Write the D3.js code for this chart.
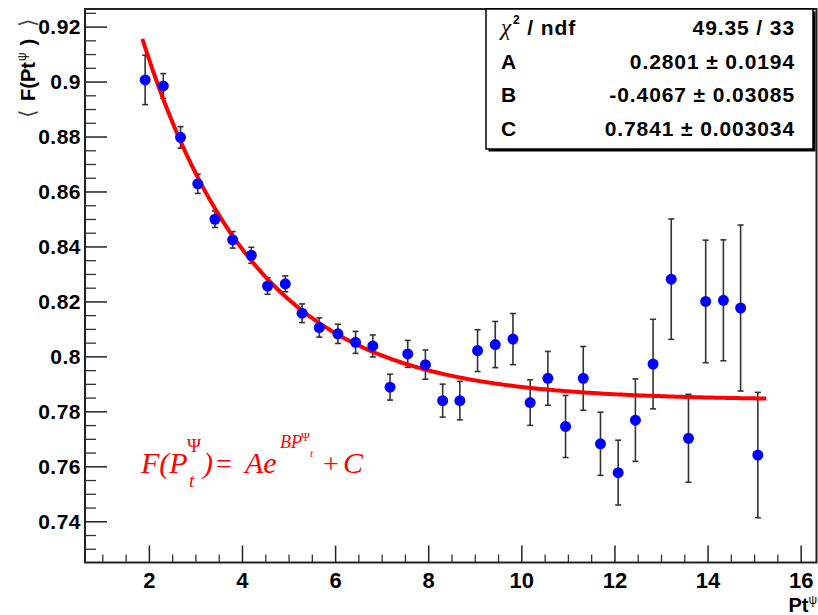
<!DOCTYPE html>
<html>
<head>
<meta charset="utf-8">
<script src="https://cdn.jsdelivr.net/npm/d3@7"></script>
<style>
  html, body { margin: 0; padding: 0; background: #fff; }
  svg { display: block; }
</style>
</head>
<body>
<svg id="chart" width="818" height="615"></svg>
<script>
// --- data ---
const ptValues = [1.92, 2.31, 2.68, 3.05, 3.42, 3.80, 4.20, 4.55, 4.93, 5.29, 5.66, 6.06,
                  6.44, 6.81, 7.18, 7.56, 7.94, 8.31, 8.68, 9.06, 9.44, 9.82, 10.19, 10.57,
                  10.95, 11.33, 11.70, 12.08, 12.45, 12.83, 13.22, 13.59, 13.96, 14.34, 14.71, 15.08];
const meanF = [0.9006, 0.8984, 0.8797, 0.8628, 0.8499, 0.8424, 0.8368, 0.8256, 0.8264, 0.8157, 0.8105, 0.8082,
               0.8051, 0.8038, 0.7888, 0.8009, 0.7970, 0.7839, 0.7839, 0.8021, 0.8043, 0.8063, 0.7832, 0.7920,
               0.7745, 0.7920, 0.7682, 0.7577, 0.7768, 0.7972, 0.8281, 0.7702, 0.8200, 0.8204, 0.8176, 0.7641];
const errF = [0.0090, 0.0045, 0.0039, 0.0035, 0.0030, 0.0030, 0.0029, 0.0030, 0.0029, 0.0034, 0.0035, 0.0035,
              0.0040, 0.0040, 0.0047, 0.0049, 0.0053, 0.0060, 0.0070, 0.0076, 0.0084, 0.0093, 0.0083, 0.0098,
              0.0113, 0.0116, 0.0115, 0.0118, 0.0150, 0.0163, 0.0219, 0.0160, 0.0223, 0.0220, 0.0302, 0.0228];

// fit result  F = A*exp(B*Pt) + C
const fitNames = ["A", "B", "C"];
const fitValues = [0.2801, -0.4067, 0.7841];
const fitValueLabels = ["0.2801", "-0.4067", "0.7841"];
const fitErrorLabels = ["0.0194", "0.03085", "0.003034"];
const fitRange = [1.86, 15.26];
const chi2Label = "49.35 / 33";

const xTickValues = [2, 4, 6, 8, 10, 12, 14, 16];
const xTickLabels = ["2", "4", "6", "8", "10", "12", "14", "16"];
const yTickValues = [0.74, 0.76, 0.78, 0.8, 0.82, 0.84, 0.86, 0.88, 0.9, 0.92];
const yTickLabels = ["0.74", "0.76", "0.78", "0.8", "0.82", "0.84", "0.86", "0.88", "0.9", "0.92"];

// --- layout ---
const L = 85, R = 816.5, T = 9, B = 562.5;
const svg = d3.select("#chart");
const FONT = "'Liberation Sans', Arial, Helvetica, sans-serif";
const SERIF = "'Liberation Serif', 'Times New Roman', serif";

const x = d3.scaleLinear().domain([0.628, 16.34]).range([L, R]);
const y = d3.scaleLinear().domain([0.725, 0.9264]).range([B, T]);

// minor ticks
const xMinor = d3.range(1, 16.3, 0.5).filter(v => v % 2 !== 0);
const yMinor = d3.range(0.73, 0.926, 0.005).map(v => +v.toFixed(3))
  .filter(v => !yTickValues.some(t => Math.abs(t - v) < 1e-6));

svg.append("g")
  .attr("transform", `translate(0,${B})`)
  .call(d3.axisBottom(x).tickValues(xMinor).tickSize(-8).tickSizeOuter(0).tickFormat(""))
  .call(g => g.select(".domain").remove())
  .selectAll("line").attr("stroke", "#333").attr("stroke-width", 1.3);

svg.append("g")
  .attr("transform", `translate(${L},0)`)
  .call(d3.axisLeft(y).tickValues(yMinor).tickSize(-11).tickSizeOuter(0).tickFormat(""))
  .call(g => g.select(".domain").remove())
  .selectAll("line").attr("stroke", "#333").attr("stroke-width", 1.3);

// major ticks + labels
const xAxis = svg.append("g")
  .attr("transform", `translate(0,${B})`)
  .call(d3.axisBottom(x).tickValues(xTickValues).tickSize(-17).tickSizeOuter(0).tickPadding(10)
    .tickFormat((d, i) => xTickLabels[i]));
xAxis.select(".domain").remove();
xAxis.selectAll("line").attr("stroke", "#222").attr("stroke-width", 1.5);
xAxis.selectAll("text").attr("font-family", FONT).attr("font-size", 22)
  .attr("font-weight", "bold").attr("fill", "#000");

const yAxis = svg.append("g")
  .attr("transform", `translate(${L},0)`)
  .call(d3.axisLeft(y).tickValues(yTickValues).tickSize(-22).tickSizeOuter(0).tickPadding(4)
    .tickFormat((d, i) => yTickLabels[i]));
yAxis.select(".domain").remove();
yAxis.selectAll("line").attr("stroke", "#222").attr("stroke-width", 1.5);
yAxis.selectAll("text").attr("font-family", FONT).attr("font-size", 21)
  .attr("letter-spacing", 0.5).attr("font-weight", "bold").attr("fill", "#000");

// frame
svg.append("rect")
  .attr("x", L).attr("y", T).attr("width", R - L).attr("height", B - T)
  .attr("fill", "none").attr("stroke", "#222").attr("stroke-width", 2);

// axis titles
const xt = svg.append("text")
  .attr("x", 817).attr("y", 612).attr("text-anchor", "end")
  .attr("font-family", FONT).attr("font-weight", "bold").attr("font-size", 20).attr("fill", "#000");
xt.append("tspan").text("Pt");
xt.append("tspan").attr("dy", -8).attr("font-size", 12).attr("font-weight", "normal").text("ψ");

const yt = svg.append("text")
  .attr("transform", "translate(35,118) rotate(-90)")
  .attr("font-family", FONT).attr("font-size", 20).attr("fill", "#000");
yt.append("tspan").attr("font-family", "'DejaVu Sans'").attr("font-size", 22).attr("font-weight", "200").attr("fill", "#444").text("⟨");
yt.append("tspan").attr("dx", 8).attr("font-weight", "bold").text("F(Pt");
yt.append("tspan").attr("dy", -9).attr("dx", 1).attr("font-size", 12).text("ψ");
yt.append("tspan").attr("dy", 9).attr("dx", 7).attr("font-weight", "bold").text(")");
yt.append("tspan").attr("dx", 12).attr("font-family", "'DejaVu Sans'").attr("font-size", 22).attr("font-weight", "200").attr("fill", "#444").text("⟩");

// error bars
const bars = svg.append("g").attr("stroke", "#333").attr("stroke-width", 1.6);
ptValues.forEach((p, i) => {
  const cx = x(p), y0 = y(meanF[i] - errF[i]), y1 = y(meanF[i] + errF[i]);
  bars.append("line").attr("x1", cx).attr("x2", cx).attr("y1", y0).attr("y2", y1);
  bars.append("line").attr("x1", cx - 3).attr("x2", cx + 3).attr("y1", y0).attr("y2", y0);
  bars.append("line").attr("x1", cx - 3).attr("x2", cx + 3).attr("y1", y1).attr("y2", y1);
});

// fit curve
const [A, Bp, C] = fitValues;
const curveX = d3.range(fitRange[0], fitRange[1], 0.05).concat([fitRange[1]]);
svg.append("path")
  .datum(curveX)
  .attr("fill", "none").attr("stroke", "#ff0000").attr("stroke-width", 4)
  .attr("d", d3.line().x(d => x(d)).y(d => y(A * Math.exp(Bp * d) + C)));

// points
svg.append("g").selectAll("circle")
  .data(ptValues)
  .join("circle")
  .attr("cx", d => x(d))
  .attr("cy", (d, i) => y(meanF[i]))
  .attr("r", 5.5)
  .attr("fill", "#0000ff");

// formula
const f = svg.append("g").attr("fill", "#ff0000").attr("font-family", SERIF).attr("font-style", "italic");
f.append("text").attr("x", 141).attr("y", 473).attr("font-size", 30).text("F(P");
f.append("text").attr("x", 187).attr("y", 452).attr("font-size", 19).attr("font-style", "normal").text("Ψ");
f.append("text").attr("x", 189).attr("y", 487).attr("font-size", 19).text("t");
f.append("text").attr("x", 203).attr("y", 473).attr("font-size", 30).text(")");
f.append("text").attr("x", 216).attr("y", 473).attr("font-size", 28).attr("font-style", "normal").text("=");
f.append("text").attr("x", 245).attr("y", 473).attr("font-size", 30).text("Ae");
f.append("text").attr("x", 280).attr("y", 448).attr("font-size", 18).text("BP");
f.append("text").attr("x", 301).attr("y", 441).attr("font-size", 12).attr("font-style", "normal").text("Ψ");
f.append("text").attr("x", 310).attr("y", 457).attr("font-size", 11).text("t");
f.append("text").attr("x", 323).attr("y", 473).attr("font-size", 28).attr("font-style", "normal").text("+");
f.append("text").attr("x", 343).attr("y", 473).attr("font-size", 30).text("C");

// stats box
const bx = 486, by = 9, bw = 327, bh = 140;
svg.append("rect").attr("x", bx + 2.5).attr("y", by + 2.5).attr("width", bw).attr("height", bh).attr("fill", "#000");
svg.append("rect").attr("x", bx).attr("y", by).attr("width", bw).attr("height", bh)
  .attr("fill", "#fff").attr("stroke", "#000").attr("stroke-width", 1.5);

const st = svg.append("g").attr("font-family", FONT).attr("font-size", 21).attr("letter-spacing", 0.9)
  .attr("font-weight", "bold").attr("fill", "#000");
const rowY = [35, 68.5, 102, 135.5];
const chiT = st.append("text").attr("x", 501).attr("y", rowY[0]);
chiT.append("tspan").attr("font-weight", "normal").attr("font-family", SERIF).attr("font-style", "italic").attr("font-size", 23).text("χ");
chiT.append("tspan").attr("dy", -11).attr("dx", 1).attr("font-size", 12).text("2");
chiT.append("tspan").attr("dy", 11).text(" / ndf");
st.append("text").attr("x", 795).attr("y", rowY[0]).attr("text-anchor", "end").text(chi2Label);
fitNames.forEach((n, i) => {
  st.append("text").attr("x", 501).attr("y", rowY[i + 1]).text(n);
  st.append("text").attr("x", 795).attr("y", rowY[i + 1]).attr("text-anchor", "end")
    .text(`${fitValueLabels[i]} ± ${fitErrorLabels[i]}`);
});
</script>
</body>
</html>
